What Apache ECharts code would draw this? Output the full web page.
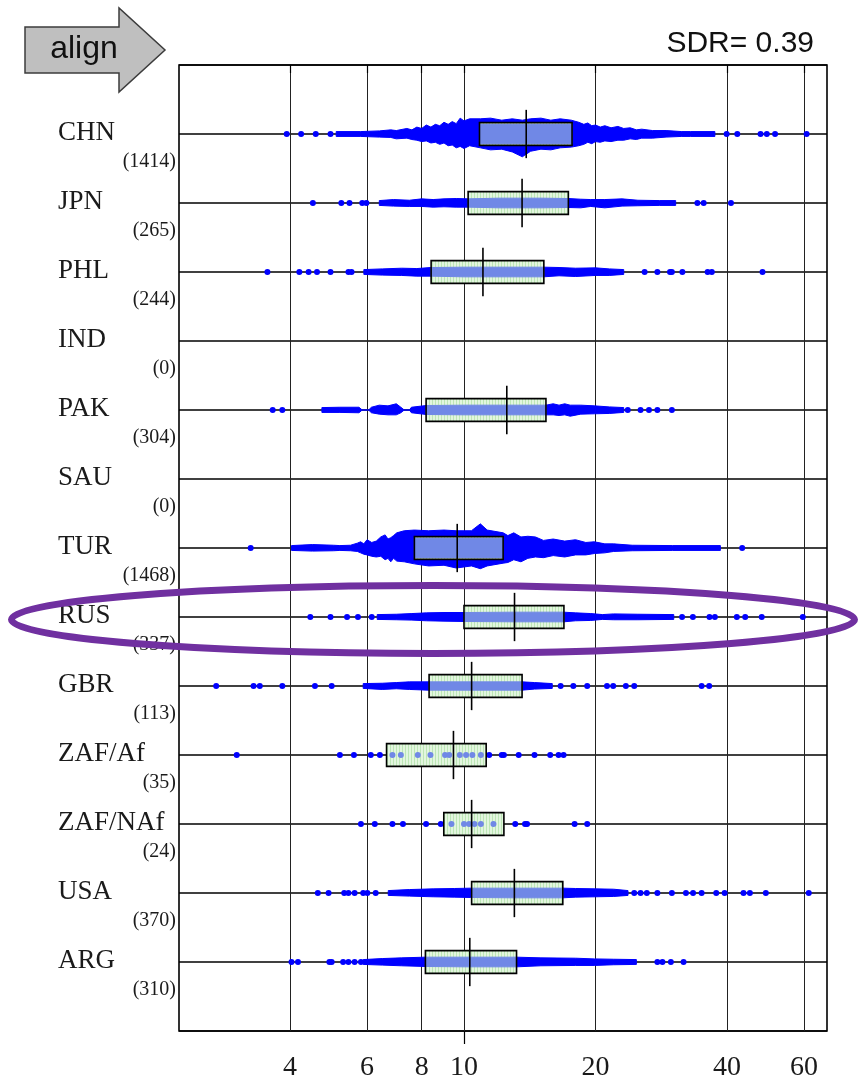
<!DOCTYPE html>
<html><head><meta charset="utf-8">
<script src="https://cdn.jsdelivr.net/npm/echarts@6/dist/echarts.min.js"></script>
<style>html,body{margin:0;padding:0;background:#fff}#c{width:862px;height:1082px}</style>
</head><body><div id="c"></div>
<script>
// ---------- data ----------
const countries = ['CHN','JPN','PHL','IND','PAK','SAU','TUR','RUS','GBR','ZAF/Af','ZAF/NAf','USA','ARG'];
const counts    = [1414, 265, 244, 0, 304, 0, 1468, 337, 113, 35, 24, 370, 310];
const q1      = [10.85, 10.22, 8.41, null, 8.19, null, 7.70, 10.0, 8.32, 6.65, 8.99, 10.41, 8.16];
const medians = [13.88, 13.58, 11.05, null, 12.53, null, 9.65, 13.05, 10.41, 9.46, 10.41, 13.04, 10.31];
const q3      = [17.67, 17.33, 15.23, null, 15.4, null, 12.29, 16.93, 13.58, 11.24, 12.34, 16.83, 13.19];
const xTicks  = [4, 6, 8, 10, 20, 40, 60];
const sdrText = 'SDR= 0.39';

// dense point clouds: [value, spread above, spread below] (spread in row units)
const chnBand = [[5.1,.035,.035],[5.8,.035,.035],[6.4,.045,.045],[6.8,.06,.05],[7.0,.05,.07],[7.4,.08,.06],[7.6,.06,.08],[7.8,.10,.09],[8.0,.08,.11],[8.2,.13,.10],[8.4,.10,.13],[8.6,.14,.12],[8.8,.12,.15],[9.0,.17,.13],[9.2,.14,.17],[9.4,.18,.16],[9.6,.15,.20],[9.8,.23,.18],[10.0,.19,.21],[10.3,.22,.17],[10.9,.22,.20],[11.5,.23,.23],[12.2,.20,.22],[12.9,.22,.26],[13.6,.20,.33],[14.2,.22,.25],[15.0,.23,.22],[15.8,.20,.23],[16.6,.22,.20],[17.6,.20,.19],[18.3,.17,.17],[18.8,.14,.15],[19.2,.16,.12],[19.6,.12,.14],[20.0,.13,.11],[20.5,.10,.12],[21.0,.12,.10],[21.7,.09,.11],[22.5,.11,.09],[23.2,.08,.09],[24.0,.09,.07],[24.8,.06,.08],[25.5,.07,.06],[27.0,.05,.06],[29.0,.05,.045],[31.5,.035,.035],[33.0,.035,.035],[37.5,.035,.035]];
const jpnBand = [[6.4,.035,.035],[6.9,.05,.045],[7.5,.04,.05],[8.0,.06,.05],[8.5,.05,.06],[9.0,.06,.055],[9.6,.065,.06],[10.2,.06,.06],[12.0,.07,.07],[15.0,.07,.07],[17.3,.065,.065],[18.5,.055,.07],[19.5,.05,.05],[21.0,.05,.07],[23.0,.06,.045],[25.0,.04,.04],[28.0,.035,.035],[30.5,.035,.035]];
const phlBand = [[5.9,.035,.035],[6.5,.045,.045],[7.2,.055,.05],[7.8,.05,.06],[8.4,.065,.06],[10.0,.07,.07],[13.0,.07,.07],[15.2,.07,.07],[16.5,.065,.055],[18.0,.055,.065],[20.0,.06,.05],[21.5,.045,.05],[23.2,.035,.035]];
const pakBand = [[4.73,.035,.035],[5.2,.04,.035],[5.75,.04,.04],[5.85,0,0],[6.05,0,0],[6.14,.04,.04],[6.4,.07,.06],[6.7,.06,.07],[7.0,.09,.07],[7.17,.04,.04],[7.3,0,0],[7.5,0,0],[7.58,.04,.04],[8.2,.065,.065],[10.0,.07,.07],[12.5,.07,.07],[15.4,.07,.07],[16.0,.09,.07],[16.5,.07,.08],[17.0,.09,.07],[17.5,.07,.09],[18.5,.07,.06],[19.9,.06,.055],[21.5,.045,.05],[23.2,.035,.035]];
const turBand = [[4.03,.035,.035],[4.5,.05,.045],[5.03,.04,.04],[5.2,.035,.035],[5.5,.04,.04],[5.7,.07,.05],[5.8,.09,.07],[5.9,.06,.09],[6.0,.12,.10],[6.15,.08,.12],[6.3,.10,.13],[6.45,.16,.12],[6.6,.19,.17],[6.7,.13,.15],[6.8,.15,.20],[6.9,.18,.15],[7.02,.22,.19],[7.3,.25,.20],[7.7,.26,.23],[8.3,.25,.26],[9.0,.26,.25],[9.6,.25,.29],[10.4,.25,.26],[10.9,.35,.30],[11.3,.26,.26],[12.29,.22,.22],[12.6,.18,.21],[13.0,.22,.17],[13.5,.16,.20],[14.0,.17,.15],[14.57,.16,.13],[15.2,.11,.14],[16.0,.13,.11],[17.0,.10,.13],[18.0,.12,.10],[19.0,.08,.10],[19.87,.09,.08],[21.0,.06,.07],[22.0,.06,.05],[24.26,.04,.04],[30.0,.035,.035],[38.6,.035,.035]];
const rusBand = [[6.33,.035,.035],[7.0,.04,.04],[7.6,.05,.045],[8.21,.06,.055],[9.0,.065,.06],[10.0,.065,.065],[13.0,.07,.07],[16.9,.07,.07],[18.0,.06,.055],[19.5,.05,.05],[20.74,.035,.035],[22.0,.045,.04],[25.0,.04,.04],[30.2,.035,.035]];
const gbrBand = [[5.88,.035,.035],[6.5,.04,.05],[7.0,.05,.04],[7.5,.06,.05],[8.28,.06,.06],[10.0,.06,.06],[13.58,.06,.06],[14.5,.05,.045],[15.92,.035,.035]];
const usaBand = [[6.71,.035,.035],[7.5,.05,.045],[8.5,.06,.055],[9.5,.065,.06],[10.34,.07,.065],[13.0,.07,.07],[16.83,.07,.07],[18.0,.065,.06],[20.0,.06,.055],[22.0,.055,.05],[23.73,.035,.035]];
const argBand = [[5.88,.035,.035],[6.5,.05,.045],[7.2,.06,.055],[8.16,.07,.065],[10.0,.07,.07],[13.19,.07,.07],[15.0,.06,.055],[18.0,.055,.05],[19.87,.045,.05],[22.0,.04,.04],[24.8,.035,.035]];

// isolated points
const chnDots = [3.93, 4.24, 4.58, 4.95, 39.9, 42.2, 47.7, 49.3, 51.5, 60.8];
const jpnDots = [4.51, 5.24, 5.47, 5.85, 5.98, 34.2, 35.35, 40.82];
const phlDots = [3.55, 4.20, 4.41, 4.61, 4.95, 5.44, 5.53, 25.9, 27.7, 29.6, 29.9, 31.6, 36.1, 36.9, 48.2];
const pakDots = [3.65, 3.84, 23.7, 25.35, 26.5, 27.7, 29.9];
const turDots = [3.25, 43.3];
const rusDots = [4.45, 4.95, 5.40, 5.72, 6.15, 31.55, 33.4, 36.45, 37.5, 42.1, 44.0, 48.0, 59.6];
const gbrDots = [2.71, 3.30, 3.41, 3.84, 4.56, 4.98, 16.64, 17.79, 19.14, 21.24, 21.95, 23.46, 24.52, 34.97, 36.39];
const zafAfDots = [3.02, 5.20, 5.60, 6.12, 6.42, 6.86, 7.17, 7.84, 8.38, 9.05, 9.25, 9.78, 10.11, 10.45, 10.93, 11.42, 12.2, 12.34, 13.34, 14.5, 15.75, 16.46, 16.9];
const zafNAfDots = [5.81, 6.25, 6.86, 7.25, 8.19, 8.85, 9.36, 10.0, 10.27, 10.57, 10.93, 11.68, 13.1, 13.79, 13.94, 17.91, 19.14];
const usaDots = [4.63, 4.90, 5.32, 5.44, 5.62, 5.88, 6.01, 6.28, 24.52, 25.35, 26.2, 27.7, 29.9, 32.2, 33.43, 34.97, 37.77, 39.48, 43.6, 45.1, 49.05, 61.5];
const argDots = [4.03, 4.17, 4.92, 4.98, 5.29, 5.44, 5.62, 5.81, 27.7, 28.45, 29.74, 31.8];

const bands = [chnBand, jpnBand, phlBand, [], pakBand, [], turBand, rusBand, gbrBand, [], [], usaBand, argBand];
const dots  = [chnDots, jpnDots, phlDots, [], pakDots, [], turDots, rusDots, gbrDots, zafAfDots, zafNAfDots, usaDots, argDots];

// ---------- chart ----------
const X_MIN = 2.228, X_MAX = 67.7;
const BOX_HALF = 0.165, MED_HALF = 0.35;
const BLUE = '#0000ff', LIGHT = '#7088e6';

const pc = document.createElement('canvas'); pc.width = 3; pc.height = 2;
const pg = pc.getContext('2d');
pg.fillStyle = '#e2f6de'; pg.fillRect(0, 0, 3, 2);
pg.fillStyle = '#bde6b6'; pg.fillRect(0, 0, 1, 2);
const stripe = { image: pc, repeat: 'repeat' };

const rowData = countries.map((c, i) => [medians[i] == null ? 10 : medians[i], i + 1]);

function bandItem(params, api) {
  const i = params.dataIndex, b = bands[i], row = i + 1;
  if (!b.length) return null;
  const up = b.map(p => api.coord([p[0], row - p[1]]));
  const dn = b.slice().reverse().map(p => api.coord([p[0], row + p[2]]));
  return { type: 'polygon', shape: { points: up.concat(dn) },
    style: { fill: BLUE, stroke: BLUE, lineWidth: 1, lineJoin: 'round' } };
}

function boxItem(params, api) {
  const i = params.dataIndex, row = i + 1;
  if (q1[i] == null) return null;
  const tl = api.coord([q1[i], row - BOX_HALF]);
  const br = api.coord([q3[i], row + BOX_HALF]);
  const rect = { x: tl[0], y: tl[1], width: br[0] - tl[0], height: br[1] - tl[1] };
  const children = [{ type: 'rect', shape: rect, style: { fill: stripe } }];
  const b = bands[i];
  if (b.length) {
    const near = v => b.reduce((a, p) => Math.abs(Math.log(p[0] / v)) < Math.abs(Math.log(a[0] / v)) ? p : a);
    const inside = b.filter(p => p[0] > q1[i] && p[0] < q3[i]);
    const a0 = near(q1[i]), a1 = near(q3[i]);
    const pts = [[q1[i], a0[1], a0[2]]].concat(inside, [[q3[i], a1[1], a1[2]]]);
    const cl = s => Math.min(s, BOX_HALF - 0.025);
    const up = pts.map(p => api.coord([p[0], row - cl(p[1])]));
    const dn = pts.slice().reverse().map(p => api.coord([p[0], row + cl(p[2])]));
    children.push({ type: 'polygon', shape: { points: up.concat(dn) }, style: { fill: LIGHT, stroke: LIGHT, lineWidth: 1 } });
  }
  dots[i].filter(v => v > q1[i] && v < q3[i]).forEach(v => {
    const c = api.coord([v, row]);
    children.push({ type: 'circle', shape: { cx: c[0], cy: c[1], r: 3 }, style: { fill: LIGHT } });
  });
  children.push({ type: 'rect', shape: rect, style: { fill: 'none', stroke: '#000', lineWidth: 1.6 } });
  const m1 = api.coord([medians[i], row - MED_HALF]), m2 = api.coord([medians[i], row + MED_HALF]);
  children.push({ type: 'line', shape: { x1: m1[0], y1: m1[1], x2: m2[0], y2: m2[1] }, style: { stroke: '#000', lineWidth: 1.6 } });
  return { type: 'group', children };
}

function labelItem(params, api) {
  const i = params.dataIndex, row = i + 1;
  const c = api.coord([X_MIN, row]);
  const x0 = params.coordSys.x;
  return { type: 'group', children: [
    { type: 'text', x: x0 - 121, y: c[1] - 1,
      style: { text: countries[i], fontFamily: 'Liberation Serif', fontSize: 27, fill: '#1a1a1a', align: 'left', verticalAlign: 'middle' } },
    { type: 'text', x: x0 - 3, y: c[1] + 28,
      style: { text: '(' + counts[i] + ')', fontFamily: 'Liberation Serif', fontSize: 20, fill: '#1a1a1a', align: 'right', verticalAlign: 'middle' } }
  ] };
}

const scatterData = [];
dots.forEach((arr, i) => arr.forEach(v => scatterData.push([v, i + 1])));

const chart = echarts.init(document.getElementById('c'), null, { renderer: 'canvas' });
chart.setOption({
  animation: false,
  backgroundColor: '#fff',
  grid: { left: 179, right: 35, top: 65, bottom: 49, show: true, borderColor: '#000', borderWidth: 1.6, backgroundColor: 'transparent' },
  xAxis: [{
    type: 'log', logBase: 10, min: X_MIN, max: X_MAX,
    axisLine: { show: false },
    axisTick: { show: true, customValues: xTicks, length: 8, lineStyle: { color: '#000', width: 1.2 } },
    axisLabel: { customValues: xTicks, formatter: v => String(Math.round(v)), fontFamily: 'Liberation Serif', fontSize: 28, color: '#1a1a1a', margin: 23 },
    splitLine: { show: true, lineStyle: { color: '#222', width: 1 } }
  }, {
    type: 'log', logBase: 10, min: X_MIN, max: X_MAX, position: 'bottom', offset: 0,
    axisLine: { show: false },
    axisTick: { show: true, customValues: [10], length: 13, lineStyle: { color: '#000', width: 1.2 } },
    axisLabel: { show: false }, splitLine: { show: false }
  }],
  yAxis: {
    type: 'value', min: 0, max: 14, interval: 1, inverse: true,
    axisLine: { show: false }, axisTick: { show: false }, axisLabel: { show: false },
    splitLine: { show: true, lineStyle: { color: '#000', width: 1.5 } }
  },
  series: [
    { type: 'custom', name: 'cloud', renderItem: bandItem, data: rowData, z: 2, clip: false },
    { type: 'scatter', name: 'points', data: scatterData, symbol: 'circle', symbolSize: 6, itemStyle: { color: BLUE, opacity: 1 }, z: 2, silent: true },
    { type: 'custom', name: 'box', renderItem: boxItem, data: rowData, z: 4, clip: false },
    { type: 'custom', name: 'labels', renderItem: labelItem, data: rowData, z: 5, clip: false }
  ],
  graphic: [
    { type: 'polygon', z: 50,
      shape: { points: [[25, 27], [119, 27], [119, 8], [165, 50], [119, 92], [119, 73], [25, 73]] },
      style: { fill: '#bfbfbf', stroke: '#3c3c3c', lineWidth: 1.5 } },
    { type: 'text', z: 51, x: 84, y: 49,
      style: { text: 'align', fontFamily: 'Liberation Sans', fontSize: 32, fill: '#111', align: 'center', verticalAlign: 'middle' } },
    { type: 'text', z: 51, x: 814, y: 44,
      style: { text: sdrText, fontFamily: 'Liberation Sans', fontSize: 30, fill: '#111', align: 'right', verticalAlign: 'middle' } },
    { type: 'ellipse', z: 100,
      shape: { cx: 433, cy: 619.5, rx: 421.5, ry: 34 },
      style: { fill: 'none', stroke: '#7030a0', lineWidth: 7 } }
  ]
});
</script></body></html>
